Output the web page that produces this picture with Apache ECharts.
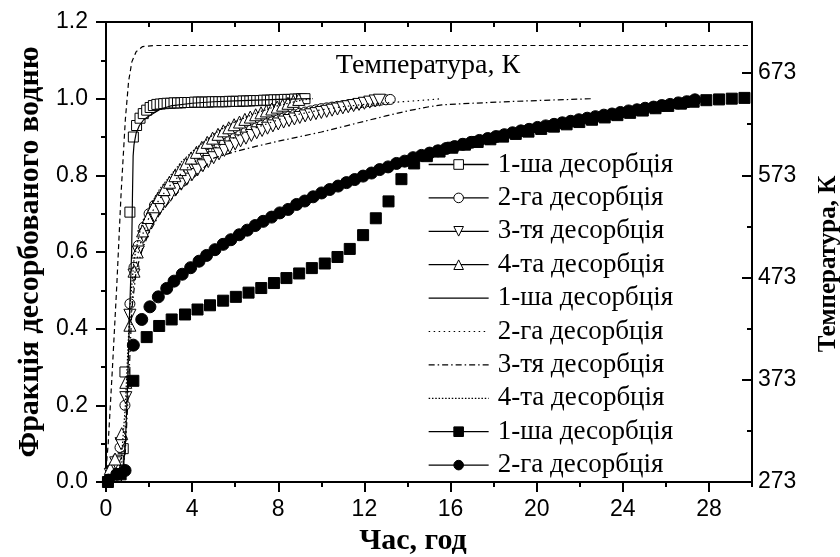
<!DOCTYPE html>
<html>
<head>
<meta charset="utf-8">
<script src="https://cdn.jsdelivr.net/npm/echarts@6/dist/echarts.min.js"></script>
<style>
  html, body { margin: 0; padding: 0; background: #fff; }
  #chart { width: 840px; height: 557px; }
</style>
</head>
<body>
<div id="chart"></div>
<script>
// Desorption runs: [time, h] pairs, fraction of desorbed hydrogen
const openSquares1 = [[0.3,0.03],[0.57,0.057],[0.8,0.087],[0.88,0.287],[1.11,0.704],[1.27,0.9],[1.42,0.93],[1.58,0.949],[1.73,0.961],[1.89,0.97],[2.05,0.977],[2.2,0.982],[2.36,0.985],[2.52,0.986],[2.68,0.987],[2.84,0.988],[3.0,0.988],[3.16,0.989],[3.32,0.989],[3.48,0.989],[3.64,0.99],[3.8,0.99],[3.96,0.99],[4.12,0.991],[4.28,0.991],[4.44,0.991],[4.6,0.991],[4.76,0.991],[4.92,0.992],[5.08,0.992],[5.24,0.992],[5.4,0.992],[5.56,0.992],[5.72,0.993],[5.88,0.993],[6.04,0.993],[6.2,0.993],[6.36,0.994],[6.52,0.994],[6.68,0.994],[6.84,0.995],[7.0,0.995],[7.16,0.995],[7.32,0.996],[7.48,0.996],[7.64,0.996],[7.8,0.997],[7.96,0.997],[8.12,0.997],[8.28,0.998],[8.44,0.998],[8.6,0.998],[8.76,0.999],[8.92,0.999],[9.08,1.0],[9.24,1.0]];

const openCircles2 = [[0.15,0.01],[0.4,0.04],[0.65,0.09],[0.88,0.2],[1.11,0.465],[1.3,0.56],[1.5,0.617],[1.75,0.665],[2.0,0.7],[2.25,0.722],[2.5,0.74],[2.75,0.757],[3.0,0.772],[3.25,0.786],[3.5,0.799],[3.75,0.811],[4.0,0.823],[4.25,0.834],[4.5,0.845],[4.75,0.855],[5.0,0.865],[5.25,0.874],[5.5,0.883],[5.75,0.891],[6.0,0.899],[6.25,0.906],[6.5,0.913],[6.75,0.919],[7.0,0.925],[7.25,0.931],[7.5,0.936],[7.75,0.941],[8.0,0.946],[8.25,0.95],[8.5,0.954],[8.75,0.958],[9.0,0.962],[9.25,0.965],[9.5,0.968],[9.75,0.971],[10.0,0.974],[10.25,0.976],[10.5,0.978],[10.75,0.98],[11.0,0.982],[11.25,0.984],[11.5,0.986],[11.75,0.988],[12.0,0.99],[12.25,0.992],[12.5,0.994],[12.75,0.996],[13.0,0.997],[13.2,0.998]];

const downTriangles3 = [[0.2,0.02],[0.45,0.05],[0.7,0.1],[0.92,0.22],[1.11,0.435],[1.3,0.54],[1.5,0.6],[1.75,0.64],[2.0,0.67],[2.25,0.693],[2.5,0.713],[2.75,0.731],[3.0,0.748],[3.25,0.763],[3.5,0.777],[3.75,0.79],[4.0,0.802],[4.25,0.814],[4.5,0.825],[4.75,0.836],[5.0,0.846],[5.25,0.856],[5.5,0.865],[5.75,0.874],[6.0,0.882],[6.25,0.89],[6.5,0.897],[6.75,0.904],[7.0,0.911],[7.25,0.917],[7.5,0.923],[7.75,0.929],[8.0,0.934],[8.25,0.939],[8.5,0.943],[8.75,0.947],[9.0,0.951],[9.25,0.955],[9.5,0.958],[9.75,0.961],[10.0,0.964],[10.25,0.967],[10.5,0.97],[10.75,0.973],[11.0,0.976],[11.25,0.979],[11.5,0.982],[11.75,0.985],[12.0,0.988],[12.25,0.991],[12.5,0.994],[12.7,0.996]];

const upTriangles4 = [[0.2,0.035],[0.42,0.06],[0.73,0.126],[0.92,0.26],[1.11,0.409],[1.3,0.55],[1.45,0.6],[1.7,0.655],[1.95,0.69],[2.2,0.718],[2.45,0.742],[2.7,0.763],[2.95,0.782],[3.2,0.799],[3.45,0.815],[3.7,0.83],[3.95,0.845],[4.2,0.86],[4.45,0.873],[4.7,0.886],[4.95,0.897],[5.2,0.907],[5.45,0.916],[5.7,0.924],[5.95,0.932],[6.2,0.939],[6.45,0.946],[6.7,0.952],[6.95,0.958],[7.2,0.963],[7.45,0.968],[7.7,0.973],[7.95,0.978],[8.2,0.983],[8.45,0.988],[8.7,0.993],[8.95,0.998]];

// Model curves
const model1 = [[0.7,0.0],[0.8,0.03],[0.9,0.1],[1.0,0.25],[1.1,0.45],[1.19,0.6],[1.23,0.75],[1.26,0.85],[1.3,0.88],[1.4,0.91],[1.55,0.93],[1.75,0.945],[2.0,0.955],[2.5,0.972],[3.0,0.981],[4.0,0.988],[5.0,0.992],[6.0,0.994],[7.0,0.996],[8.0,0.998],[9.5,1.0]];
const model2 = [[0.6,0.0],[0.8,0.05],[0.95,0.2],[1.1,0.4],[1.3,0.53],[1.5,0.6],[1.75,0.655],[2.0,0.69],[2.5,0.74],[3.0,0.775],[3.5,0.805],[4.0,0.83],[5.0,0.87],[6.0,0.9],[7.0,0.925],[8.0,0.945],[9.0,0.96],[10.0,0.971],[11.0,0.979],[12.0,0.985],[13.0,0.989],[14.0,0.993],[15.0,0.997],[15.6,1.0]];
const model3 = [[0.7,0.0],[0.9,0.08],[1.05,0.25],[1.2,0.45],[1.4,0.55],[1.7,0.61],[2.0,0.65],[2.5,0.7],[3.0,0.735],[3.5,0.765],[4.0,0.79],[5.0,0.845],[6.0,0.862],[7.0,0.876],[8.0,0.889],[9.0,0.901],[10.0,0.913],[11.0,0.927],[12.0,0.941],[13.0,0.955],[14.0,0.968],[15.0,0.979],[15.6,0.984],[17.0,0.988],[19.0,0.993],[21.0,0.997],[22.6,1.0]];
const model4 = [[0.5,0.0],[0.7,0.05],[0.9,0.2],[1.1,0.45],[1.3,0.58],[1.6,0.66],[2.0,0.715],[2.5,0.765],[3.0,0.8],[3.5,0.835],[4.0,0.862],[4.5,0.885],[5.0,0.907],[5.5,0.925],[6.0,0.94],[7.0,0.963],[8.0,0.982],[9.0,0.995],[9.6,1.0]];

const filledSquares1 = [[0.09,0.0],[0.68,0.02],[1.27,0.264],[1.89,0.378],[2.47,0.407],[3.05,0.424],[3.67,0.437],[4.25,0.45],[4.83,0.461],[5.44,0.473],[6.03,0.483],[6.62,0.494],[7.21,0.506],[7.8,0.519],[8.38,0.532],[8.97,0.544],[9.56,0.558],[10.16,0.57],[10.75,0.587],[11.32,0.608],[11.94,0.644],[12.53,0.688],[13.12,0.732],[13.72,0.79],[14.31,0.831],[14.9,0.85],[15.49,0.862],[16.08,0.872],[16.67,0.88],[17.26,0.887],[17.85,0.894],[18.44,0.901],[19.03,0.908],[19.62,0.914],[20.21,0.921],[20.8,0.927],[21.39,0.933],[21.98,0.939],[22.57,0.945],[23.16,0.951],[23.75,0.957],[24.34,0.963],[24.93,0.969],[25.52,0.975],[26.11,0.981],[26.7,0.987],[27.29,0.992],[27.88,0.996],[28.47,0.998],[29.06,1.0],[29.65,1.002]];

const filledCircles2 = [[0.115,0.005],[0.5,0.02],[0.885,0.03],[1.27,0.357],[1.66,0.424],[2.04,0.457],[2.43,0.483],[2.82,0.505],[3.16,0.524],[3.54,0.542],[3.93,0.559],[4.32,0.576],[4.67,0.591],[5.06,0.606],[5.44,0.62],[5.8,0.632],[6.19,0.645],[6.56,0.657],[6.93,0.669],[7.3,0.68],[7.69,0.691],[8.07,0.702],[8.46,0.711],[8.85,0.724],[9.23,0.733],[9.62,0.744],[10.01,0.754],[10.39,0.763],[10.78,0.772],[11.17,0.781],[11.55,0.789],[11.94,0.798],[12.33,0.806],[12.71,0.815],[13.1,0.822],[13.49,0.831],[13.87,0.837],[14.26,0.846],[14.65,0.852],[15.03,0.858],[15.42,0.864],[15.8,0.87],[16.19,0.875],[16.57,0.881],[16.96,0.886],[17.34,0.891],[17.73,0.896],[18.11,0.901],[18.5,0.906],[18.88,0.911],[19.27,0.916],[19.65,0.92],[20.04,0.925],[20.42,0.929],[20.81,0.933],[21.19,0.937],[21.58,0.941],[21.96,0.945],[22.35,0.949],[22.73,0.953],[23.12,0.957],[23.5,0.96],[23.89,0.964],[24.27,0.968],[24.66,0.971],[25.04,0.975],[25.43,0.978],[25.81,0.982],[26.2,0.985],[26.58,0.989],[26.97,0.992],[27.35,0.997]];

// Furnace temperature, K (right axis)
const temperature = [[0,285],[0.1,310],[0.3,385],[0.5,465],[0.7,555],[0.9,628],[1.05,665],[1.2,684],[1.4,694],[1.7,699],[2.2,700],[30,700]];

const legendLabels = ['1-ша десорбція', '2-га десорбція', '3-тя десорбція', '4-та десорбція',
                      '1-ша десорбція', '2-га десорбція', '3-тя десорбція', '4-та десорбція',
                      '1-ша десорбція', '2-га десорбція'];
const seriesKeys = ['sq1', 'ci2', 'dt3', 'ut4', 'm1', 'm2', 'm3', 'm4', 'fs1', 'fc2'];

const SANS = 'Liberation Sans';
const SERIF = 'Liberation Serif';
const BLACK = '#000';
const DOTS = [1.5, 3.5];
const DASHDOT = [6, 3, 1.5, 3];
const DENSE = [1.5, 1.8];

function markerSeries(key, data, symbol, size, fill, rotate) {
  return {
    name: key, type: 'line', data: data,
    xAxisIndex: 0, yAxisIndex: 0,
    symbol: symbol, symbolSize: size, symbolRotate: rotate || 0,
    showSymbol: true,
    lineStyle: { width: 0, opacity: 0, color: BLACK },
    itemStyle: { color: fill, borderColor: BLACK, borderWidth: 1 },
    z: 3
  };
}
function curveSeries(key, data, type) {
  return {
    name: key, type: 'line', data: data,
    xAxisIndex: 0, yAxisIndex: 0,
    symbol: 'none', showSymbol: false,
    lineStyle: { width: 1.2, color: BLACK, type: type },
    itemStyle: { color: BLACK },
    z: 4
  };
}

const markerLegendLine = { width: 1.3, color: BLACK, type: 'solid', opacity: 1 };

const option = {
  animation: false,
  backgroundColor: '#fff',
  grid: { left: 106, right: 88, top: 22, bottom: 75, containLabel: false, outerBoundsMode: 'none' },
  xAxis: [
    {
      type: 'value', position: 'bottom', min: 0, max: 30, interval: 4,
      name: 'Час, год', nameLocation: 'middle', nameGap: 43,
      nameTextStyle: { fontFamily: SERIF, fontWeight: 'bold', fontSize: 30, color: BLACK, padding: [0, 32, 0, 0] },
      axisLine: { show: true, onZero: false, lineStyle: { color: BLACK, width: 2 } },
      axisTick: { show: true, inside: false, length: 10, lineStyle: { color: BLACK, width: 2 } },
      axisLabel: { show: true, showMaxLabel: false, margin: 16, fontFamily: SANS, fontSize: 23, color: BLACK },
      splitLine: { show: false }
    },
    {
      type: 'value', position: 'top', min: 0, max: 30, interval: 4,
      axisLine: { show: true, onZero: false, lineStyle: { color: BLACK, width: 2 } },
      axisTick: { show: true, inside: true, length: 10, lineStyle: { color: BLACK, width: 2 } },
      axisLabel: { show: false },
      splitLine: { show: false }
    },
    {
      type: 'value', position: 'bottom', min: 0, max: 30, interval: 2,
      axisLine: { show: false, onZero: false },
      axisTick: { show: true, inside: false, length: 5, lineStyle: { color: BLACK, width: 2 } },
      axisLabel: { show: false },
      splitLine: { show: false }
    },
    {
      type: 'value', position: 'top', min: 0, max: 30, interval: 2,
      axisLine: { show: false, onZero: false },
      axisTick: { show: true, inside: true, length: 5, lineStyle: { color: BLACK, width: 2 } },
      axisLabel: { show: false },
      splitLine: { show: false }
    }
  ],
  yAxis: [
    {
      type: 'value', position: 'left', min: 0, max: 1.2, interval: 0.2,
      name: 'Фракція десорбованого водню', nameLocation: 'middle', nameGap: 60, nameRotate: 90,
      nameTextStyle: { fontFamily: SERIF, fontWeight: 'bold', fontSize: 30, color: BLACK },
      axisLine: { show: true, onZero: false, lineStyle: { color: BLACK, width: 2 } },
      axisTick: { show: true, inside: false, length: 10, lineStyle: { color: BLACK, width: 2 } },
      minorTick: { show: true, splitNumber: 2, length: 5, lineStyle: { color: BLACK, width: 2 } },
      axisLabel: { show: true, margin: 18, fontFamily: SANS, fontSize: 23, color: BLACK,
                   formatter: v => v.toFixed(1) },
      splitLine: { show: false }, minorSplitLine: { show: false }
    },
    {
      type: 'value', position: 'right', min: 273, max: 723, interval: 100,
      name: 'Температура, К', nameLocation: 'middle', nameGap: 64, nameRotate: 90,
      nameTextStyle: { fontFamily: SERIF, fontWeight: 'bold', fontSize: 25, color: BLACK, padding: [0, 24, 0, 0] },
      axisLine: { show: true, onZero: false, lineStyle: { color: BLACK, width: 2 } },
      axisTick: { show: true, inside: true, length: 10, lineStyle: { color: BLACK, width: 2 } },
      axisLabel: { show: true, showMaxLabel: false, margin: 6, fontFamily: SANS, fontSize: 23, color: BLACK },
      splitLine: { show: false }
    },
    {
      type: 'value', position: 'right', min: 273, max: 723, interval: 50,
      axisLine: { show: false, onZero: false },
      axisTick: { show: true, inside: true, length: 5, lineStyle: { color: BLACK, width: 2 } },
      axisLabel: { show: false },
      splitLine: { show: false }
    }
  ],
  legend: {
    orient: 'vertical', left: 423, top: 146,
    itemWidth: 60, itemHeight: 12, itemGap: 6.4,
    selectedMode: false,
    textStyle: { fontFamily: SERIF, fontSize: 27, color: BLACK, lineHeight: 24, padding: [0, 0, 0, 4] },
    itemStyle: { borderWidth: 1 },
    formatter: name => legendLabels[seriesKeys.indexOf(name)],
    data: [
      { name: 'sq1', lineStyle: markerLegendLine },
      { name: 'ci2', lineStyle: markerLegendLine },
      { name: 'dt3', lineStyle: markerLegendLine },
      { name: 'ut4', lineStyle: markerLegendLine },
      { name: 'm1', itemStyle: { opacity: 0 }, lineStyle: { width: 1.2, type: 'solid', opacity: 1 } },
      { name: 'm2', itemStyle: { opacity: 0 }, lineStyle: { width: 1.2, type: DOTS, opacity: 1 } },
      { name: 'm3', itemStyle: { opacity: 0 }, lineStyle: { width: 1.2, type: DASHDOT, opacity: 1 } },
      { name: 'm4', itemStyle: { opacity: 0 }, lineStyle: { width: 1.2, type: DENSE, opacity: 1 } },
      { name: 'fs1', lineStyle: markerLegendLine },
      { name: 'fc2', lineStyle: markerLegendLine }
    ]
  },
  graphic: [
    {
      type: 'text', x: 428, y: 66,
      style: { text: 'Температура, К', fontFamily: SERIF, fontSize: 28, fill: BLACK,
               align: 'center', verticalAlign: 'middle' }
    }
  ],
  series: [
    {
      name: 'temperature', type: 'line', data: temperature,
      xAxisIndex: 0, yAxisIndex: 1,
      symbol: 'none', showSymbol: false,
      lineStyle: { width: 1.2, color: BLACK, type: [5, 3.5] }, z: 2
    },
    markerSeries('sq1', openSquares1, 'rect', 10, '#fff'),
    markerSeries('ci2', openCircles2, 'circle', 10, '#fff'),
    markerSeries('dt3', downTriangles3, 'triangle', 12, '#fff', 180),
    markerSeries('ut4', upTriangles4, 'triangle', 12, '#fff'),
    curveSeries('m1', model1, 'solid'),
    curveSeries('m2', model2, DOTS),
    curveSeries('m3', model3, DASHDOT),
    curveSeries('m4', model4, DENSE),
    markerSeries('fs1', filledSquares1, 'rect', 11, BLACK),
    markerSeries('fc2', filledCircles2, 'circle', 12, BLACK)
  ]
};

const chart = echarts.init(document.getElementById('chart'), null, { renderer: 'canvas' });
chart.setOption(option);
</script>
</body>
</html>
